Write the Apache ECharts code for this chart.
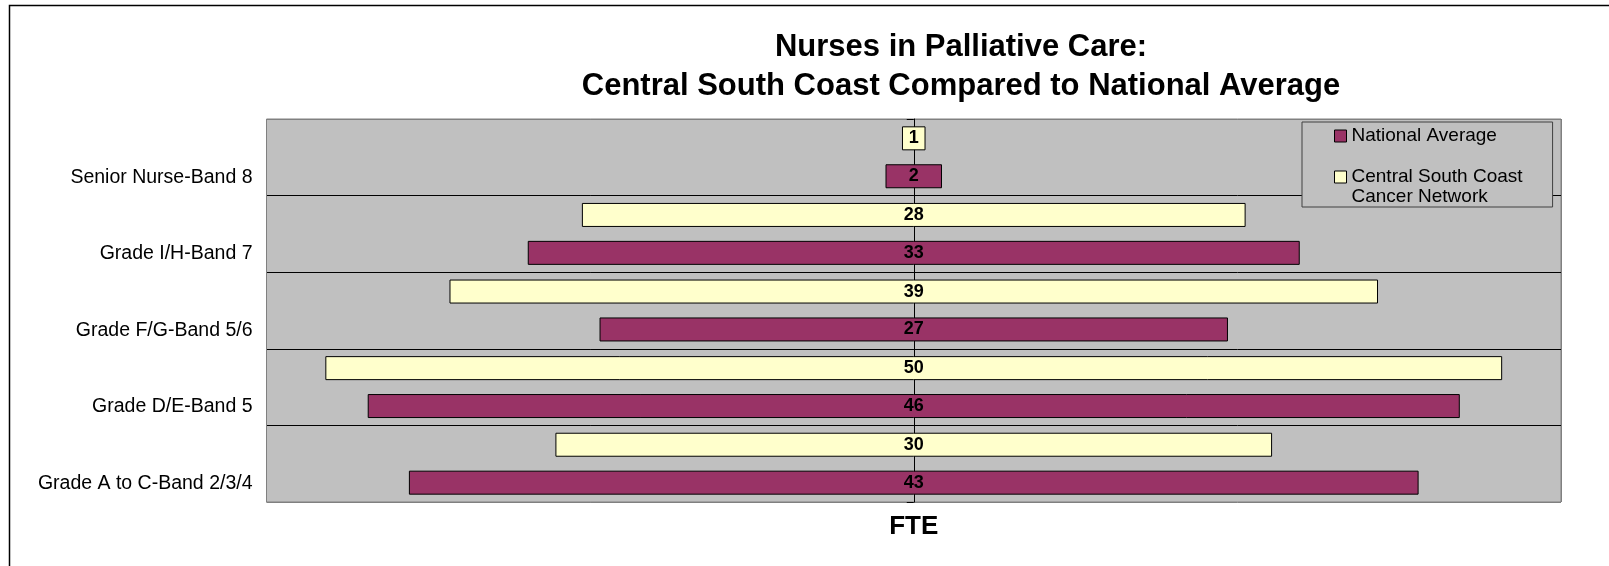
<!DOCTYPE html>
<html>
<head>
<meta charset="utf-8">
<script src="https://cdn.jsdelivr.net/npm/echarts@6/dist/echarts.min.js"></script>
<style>
html,body{margin:0;padding:0;background:#fff;}
#chart{width:1609px;height:566px;}
</style>
</head>
<body>
<div id="chart"></div>
<script>
const categories = ['Senior Nurse-Band 8', 'Grade I/H-Band 7', 'Grade F/G-Band 5/6', 'Grade D/E-Band 5', 'Grade A to C-Band 2/3/4'];
const nationalValues = [2.4, 32.8, 26.7, 46.4, 42.9];
const centralValues = [1, 28.2, 39.45, 50, 30.45];
const nationalName = 'National Average';
const centralName = 'Central South Coast Cancer Network';
const titleText = 'Nurses in Palliative Care:\nCentral South Coast Compared to National Average';
const axisTitle = 'FTE';

const FONT = '"Liberation Sans", Arial, sans-serif';
const chart = echarts.init(document.getElementById('chart'), null, {renderer: 'canvas'});

const labelCfg = {
  show: true, position: 'inside', color: '#000', fontWeight: 'bold', fontSize: 18, fontFamily: FONT,
  formatter: p => String(Math.round(p.value))
};

function offsetSeries(stack, vals) {
  return {
    type: 'bar', stack: stack, stackStrategy: 'all', silent: true, barWidth: 24, barGap: '58%',
    data: vals.map(v => -v / 2),
    itemStyle: {color: 'transparent', borderWidth: 0},
    label: {show: false}, emphasis: {disabled: true}
  };
}
function valueSeries(stack, name, vals, color) {
  return {
    type: 'bar', name: name, stack: stack, stackStrategy: 'all', barWidth: 24, barGap: '58%',
    data: vals,
    itemStyle: {color: color, borderColor: '#000', borderWidth: 1},
    label: labelCfg
  };
}

chart.setOption({
  animation: false,
  backgroundColor: '#fff',
  textStyle: {fontFamily: FONT},
  title: {
    text: titleText, left: 956, top: 23, textAlign: 'center',
    textStyle: {fontSize: 31, fontWeight: 'bold', color: '#000', fontFamily: FONT, lineHeight: 39}
  },
  graphic: [{
    type: 'rect', shape: {x: 9.5, y: 5.5, width: 1640, height: 620},
    style: {fill: 'none', stroke: '#000', lineWidth: 1.5}, silent: true
  }],
  legend: {
    orient: 'vertical', left: 1302, top: 122,
    padding: [4, 30, 0, 32], itemGap: 1, itemWidth: 12, itemHeight: 12, icon: 'rect',
    backgroundColor: '#C0C0C0', borderColor: '#404040', borderWidth: 1,
    itemStyle: {borderColor: '#000', borderWidth: 1},
    textStyle: {fontSize: 19, color: '#000', fontFamily: FONT, lineHeight: 20},
    formatter: n => n === centralName ? '\nCentral South Coast\nCancer Network' : n,
    data: [nationalName, centralName],
    selectedMode: false
  },
  grid: {
    left: 266.5, right: 48, top: 119, bottom: 64,
    show: true, backgroundColor: '#C0C0C0', borderColor: '#808080', borderWidth: 1
  },
  xAxis: {
    type: 'value', min: -27.5, max: 27.5, interval: 27.5,
    name: axisTitle, nameLocation: 'middle', nameGap: 12,
    nameTextStyle: {fontSize: 26, fontWeight: 'bold', color: '#000', fontFamily: FONT, verticalAlign: 'top'},
    axisLabel: {show: false}, axisTick: {show: false}, axisLine: {show: false},
    splitLine: {show: true, lineStyle: {color: ['#808080', '#505050', '#808080'], width: 1}}
  },
  yAxis: {
    type: 'category', inverse: true, data: categories,
    axisLine: {show: true, lineStyle: {color: '#000', width: 1}},
    axisTick: {show: true, length: 7, lineStyle: {color: '#000'}},
    axisLabel: {fontSize: 19.5, color: '#000', fontFamily: FONT, margin: 14, verticalAlign: 'top', lineHeight: 40},
    splitLine: {show: true, lineStyle: {color: ['#808080', '#000', '#000', '#000', '#000', '#808080'], width: 1}}
  },
  series: [
    offsetSeries('central', centralValues),
    valueSeries('central', centralName, centralValues, '#FFFFCC'),
    offsetSeries('national', nationalValues),
    valueSeries('national', nationalName, nationalValues, '#993366')
  ]
});
</script>
</body>
</html>
